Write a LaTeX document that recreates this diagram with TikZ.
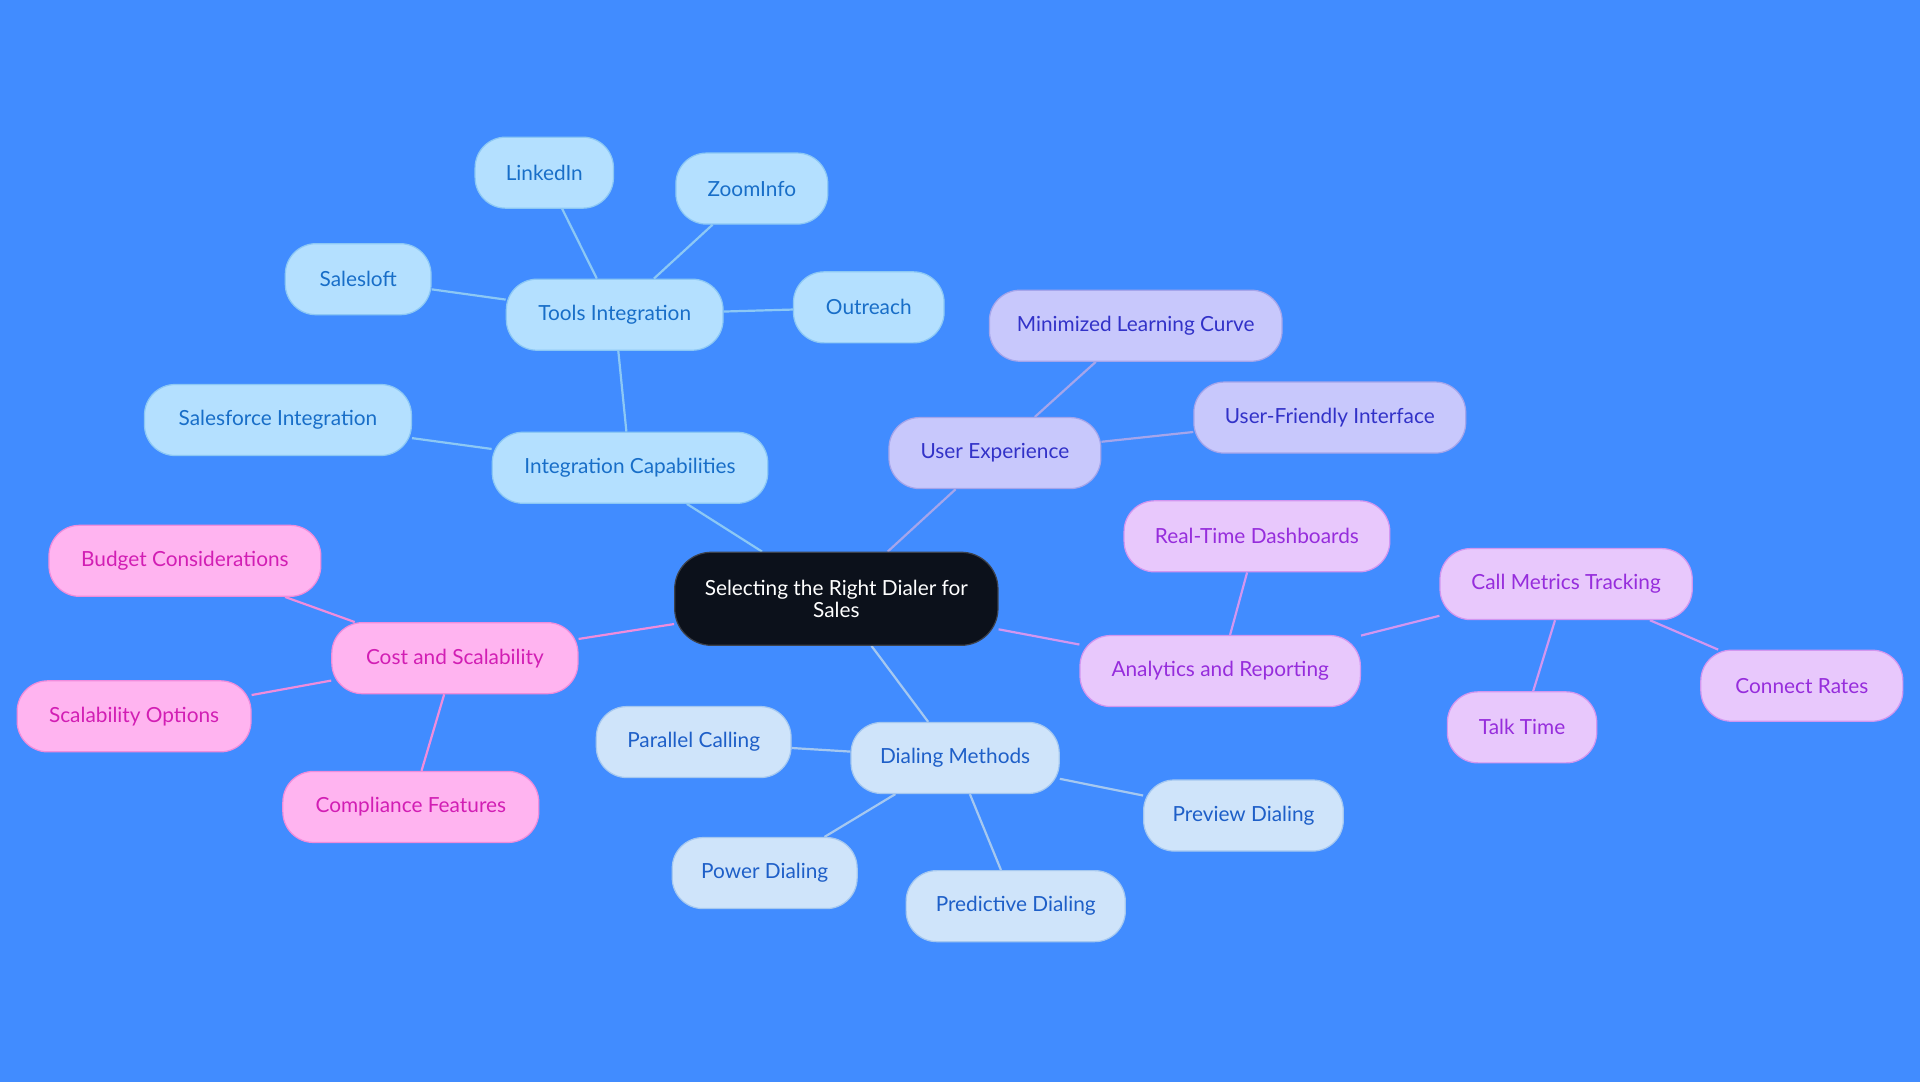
\documentclass[tikz,border=0pt]{standalone}
\usepackage{fontspec}
\setmainfont{Lato}
\usetikzlibrary{backgrounds}
\definecolor{bgc}{RGB}{65,140,255}
\definecolor{intF}{RGB}{180,224,255}
\definecolor{intT}{RGB}{24,110,200}
\definecolor{intB}{RGB}{140,200,245}
\definecolor{dialF}{RGB}{207,228,250}
\definecolor{dialT}{RGB}{30,95,200}
\definecolor{dialB}{RGB}{165,200,240}
\definecolor{uxF}{RGB}{200,200,252}
\definecolor{uxT}{RGB}{50,50,200}
\definecolor{uxB}{RGB}{165,165,235}
\definecolor{anaF}{RGB}{232,200,252}
\definecolor{anaT}{RGB}{150,45,220}
\definecolor{anaB}{RGB}{210,150,240}
\definecolor{costF}{RGB}{255,180,240}
\definecolor{costT}{RGB}{210,30,180}
\definecolor{costB}{RGB}{240,140,220}
\definecolor{rootF}{RGB}{12,17,27}
\definecolor{rootB}{RGB}{60,65,75}
\tikzset{
  box/.style={draw, rounded corners=25pt, minimum height=58pt, line width=1pt, inner sep=0pt, align=center, font=\fontsize{17}{18}\selectfont},
  integ/.style={box, fill=intF, draw=intB, text=intT},
  dial/.style={box, fill=dialF, draw=dialB, text=dialT},
  ux/.style={box, fill=uxF, draw=uxB, text=uxT},
  ana/.style={box, fill=anaF, draw=anaB, text=anaT},
  cost/.style={box, fill=costF, draw=costB, text=costT},
  rootbox/.style={box, fill=rootF, draw=rootB, text=white, minimum height=76pt, rounded corners=30pt},
  eint/.style={draw=intB, line width=1.8pt},
  edial/.style={draw=dialB, line width=1.8pt},
  eux/.style={draw=uxB, line width=1.8pt},
  eana/.style={draw=anaB, line width=1.8pt},
  ecost/.style={draw=costB, line width=1.8pt},
}
\begin{document}
\begin{tikzpicture}[x=1pt,y=-1pt]
\useasboundingbox (0,0) rectangle (1568,884);

\node[rootbox, minimum width=264pt] (root) at (683,489) {Selecting the Right Dialer for\\Sales};

\node[integ, minimum width=225pt] (ic) at (514.5,382) {Integration Capabilities};
\node[integ, minimum width=177pt] (ti) at (502,257) {Tools Integration};
\node[integ, minimum width=218pt] (sfi) at (227,343) {Salesforce Integration};
\node[integ, minimum width=113pt] (li) at (444.5,141) {LinkedIn};
\node[integ, minimum width=124pt] (zi) at (614,154) {ZoomInfo};
\node[integ, minimum width=119pt] (sl) at (292.5,228) {Salesloft};
\node[integ, minimum width=123pt] (or) at (709.5,251) {Outreach};

\node[ux, minimum width=173pt] (ue) at (812.5,370) {User Experience};
\node[ux, minimum width=239pt] (mlc) at (927.5,266) {Minimized Learning Curve};
\node[ux, minimum width=222pt] (ufi) at (1086,341) {User-Friendly Interface};

\node[ana, minimum width=229pt] (ar) at (996.5,548) {Analytics and Reporting};
\node[ana, minimum width=217pt] (rtd) at (1026.5,438) {Real-Time Dashboards};
\node[ana, minimum width=206pt] (cmt) at (1279,477) {Call Metrics Tracking};
\node[ana, minimum width=122pt] (tt) at (1243,594) {Talk Time};
\node[ana, minimum width=165pt] (cr) at (1471.5,560) {Connect Rates};

\node[cost, minimum width=201pt] (cs) at (371.5,537.5) {Cost and Scalability};
\node[cost, minimum width=222pt] (bc) at (151,458) {Budget Considerations};
\node[cost, minimum width=191pt] (so) at (109.5,585) {Scalability Options};
\node[cost, minimum width=209pt] (cf) at (335.5,659) {Compliance Features};

\node[dial, minimum width=170pt] (dm) at (780,619) {Dialing Methods};
\node[dial, minimum width=159pt] (pc) at (566.5,606) {Parallel Calling};
\node[dial, minimum width=163pt] (pvd) at (1015.5,666) {Preview Dialing};
\node[dial, minimum width=151pt] (pwd) at (624.5,713) {Power Dialing};
\node[dial, minimum width=179pt] (prd) at (829.5,740) {Predictive Dialing};

\begin{scope}[on background layer]
\fill[bgc] (0,0) rectangle (1568,884);
\draw[eint] (root) -- (ic);
\draw[eint] (ic) -- (ti);
\draw[eint] (ic) -- (sfi);
\draw[eint] (ti) -- (li);
\draw[eint] (ti) -- (zi);
\draw[eint] (ti) -- (sl);
\draw[eint] (ti) -- (or);
\draw[eux] (root) -- (ue);
\draw[eux] (ue) -- (mlc);
\draw[eux] (ue) -- (ufi);
\draw[eana] (root) -- (ar);
\draw[eana] (ar) -- (rtd);
\draw[eana] (ar) -- (cmt);
\draw[eana] (cmt) -- (tt);
\draw[eana] (cmt) -- (cr);
\draw[ecost] (root) -- (cs);
\draw[ecost] (cs) -- (bc);
\draw[ecost] (cs) -- (so);
\draw[ecost] (cs) -- (cf);
\draw[edial] (root) -- (dm);
\draw[edial] (dm) -- (pc);
\draw[edial] (dm) -- (pvd);
\draw[edial] (dm) -- (pwd);
\draw[edial] (dm) -- (prd);
\end{scope}
\end{tikzpicture}
\end{document}
